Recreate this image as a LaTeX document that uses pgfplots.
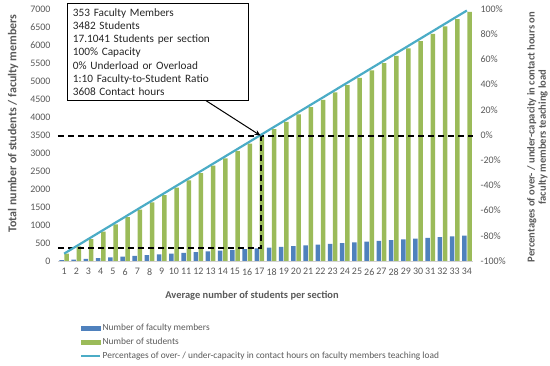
\documentclass[border=0pt]{standalone}
\usepackage{pgfplots}
\pgfplotsset{compat=1.18}
\usepackage{fontspec}
\setmainfont{Carlito}
\usetikzlibrary{arrows.meta}
\definecolor{fac}{HTML}{4F81BD}
\definecolor{stu}{HTML}{9BBB59}
\definecolor{pct}{HTML}{4BACC6}
\definecolor{txt}{HTML}{595959}
\begin{document}
\begin{tikzpicture}
\useasboundingbox (0,0) rectangle (550bp,366bp);
\begin{axis}[
  at={(58bp,105bp)}, anchor=south west, scale only axis,
  width=415bp, height=252bp,
  xmin=0.5, xmax=34.5, ymin=0, ymax=7000,
  xtick={1,...,34}, ytick={0,500,...,7000},
  axis line style={draw=none},
  major tick length=0pt,
  tick label style={font=\fontsize{10}{12}\selectfont, text=txt},
  /pgf/number format/assume math mode=true,
  /pgf/number format/1000 sep={},
  yticklabel style={xshift=-4bp},
  xticklabel style={yshift=-4bp},
  clip=false,
]
\addplot[ybar, bar width=4.5bp, bar shift=-2.6bp, fill=fac, draw=none] coordinates {
(1,21) (2,41) (3,62) (4,83) (5,104) (6,124) (7,145) (8,166) (9,186) (10,207)
(11,228) (12,248) (13,269) (14,290) (15,311) (16,331) (17,352) (18,373) (19,393) (20,414)
(21,435) (22,455) (23,476) (24,497) (25,518) (26,538) (27,559) (28,580) (29,600) (30,621)
(31,642) (32,662) (33,683) (34,704)};
\addplot[ybar, bar width=4.5bp, bar shift=2.6bp, fill=stu, draw=none] coordinates {
(1,204) (2,407) (3,611) (4,814) (5,1018) (6,1222) (7,1425) (8,1629) (9,1832) (10,2036)
(11,2240) (12,2443) (13,2647) (14,2850) (15,3054) (16,3258) (17,3461) (18,3665) (19,3868) (20,4072)
(21,4276) (22,4479) (23,4683) (24,4886) (25,5090) (26,5294) (27,5497) (28,5701) (29,5904) (30,6108)
(31,6312) (32,6515) (33,6719) (34,6922)};
\draw[gray!35, line width=0.6pt] (rel axis cs:0,0) -- (rel axis cs:1,0);
\addplot[black, line width=1.8bp, dash pattern=on 6bp off 4bp] coordinates {(0.5,3482) (34.5,3482)};
\addplot[black, line width=1.8bp, dash pattern=on 6bp off 4bp] coordinates {(0.5,353) (17.1,353) (17.1,3482)};
\coordinate (tip) at (axis cs:17.1,3482);
\end{axis}
\begin{axis}[
  at={(58bp,105bp)}, anchor=south west, scale only axis,
  width=415bp, height=252bp,
  xmin=0.5, xmax=34.5, ymin=-100, ymax=100,
  xtick=\empty, ytick={-100,-80,...,100},
  yticklabel pos=right,
  yticklabel={\pgfmathprintnumber{\tick}\%},
  axis line style={draw=none},
  major tick length=0pt,
  tick label style={font=\fontsize{10}{12}\selectfont, text=txt},
  /pgf/number format/assume math mode=true,
  yticklabel style={xshift=4bp},
  legend style={at={(0.053,-0.248)}, anchor=north west, draw=none, fill=none,
    font=\fontsize{9.4}{10}\selectfont, text=txt, inner sep=0pt,
    row sep=4.6bp, cells={anchor=west},
    nodes={inner xsep=1.5bp, inner ysep=0pt, text height=7bp, text depth=2.4bp}},
  legend cell align=left,
  clip=false,
]
\addlegendimage{legend image code/.code={\fill[fac] (0bp,-2.3bp) rectangle (19bp,2.3bp);}}
\addlegendentry{Number of faculty members}
\addlegendimage{legend image code/.code={\fill[stu] (0bp,-2.3bp) rectangle (19bp,2.3bp);}}
\addlegendentry{Number of students}
\addplot[pct, line width=2.2pt, legend image code/.code={\draw[pct, line width=2pt] (0bp,0bp) -- (19bp,0bp);}] coordinates {
(1,-94.15) (2,-88.31) (3,-82.46) (4,-76.61) (5,-70.77) (6,-64.92) (7,-59.07) (8,-53.23) (9,-47.38) (10,-41.53)
(11,-35.69) (12,-29.84) (13,-23.99) (14,-18.15) (15,-12.30) (16,-6.45) (17,-0.61) (18,5.24) (19,11.08) (20,16.93)
(21,22.78) (22,28.62) (23,34.47) (24,40.32) (25,46.16) (26,52.01) (27,57.86) (28,63.70) (29,69.55) (30,75.40)
(31,81.24) (32,87.09) (33,92.94) (34,98.78)};
\addlegendentry{Percentages of over- / under-capacity in contact hours on faculty members teaching load}
\end{axis}
\draw[black, line width=1pt, -{Stealth[length=6bp, width=5bp]}] (205bp,266bp) -- (tip);
\node[draw=black, line width=0.8pt, fill=white, anchor=north west, align=left,
  text width=170bp, inner xsep=5.5bp, inner ysep=5bp,
  font=\fontsize{11.3}{13.3}\selectfont, text=black!85] at (67bp,363bp)
  {353 Faculty Members\\3482 Students\\17.1041 Students per section\\100\% Capacity\\0\% Underload or Overload\\1:10 Faculty-to-Student Ratio\\3608 Contact hours};
\node[rotate=90, font=\bfseries\fontsize{12}{14}\selectfont, text=txt] at (13bp,242.5bp) {Total number of students / faculty members};
\node[rotate=90, align=center, font=\bfseries\fontsize{10.6}{11.2}\selectfont, text=txt] at (537.5bp,229bp)
  {Percentages of over- / under-capacity in contact hours on\\faculty members teaching load};
\node[font=\bfseries\fontsize{10.5}{12}\selectfont, text=txt] at (252bp,70bp) {Average number of students per section};
\end{tikzpicture}
\end{document}
